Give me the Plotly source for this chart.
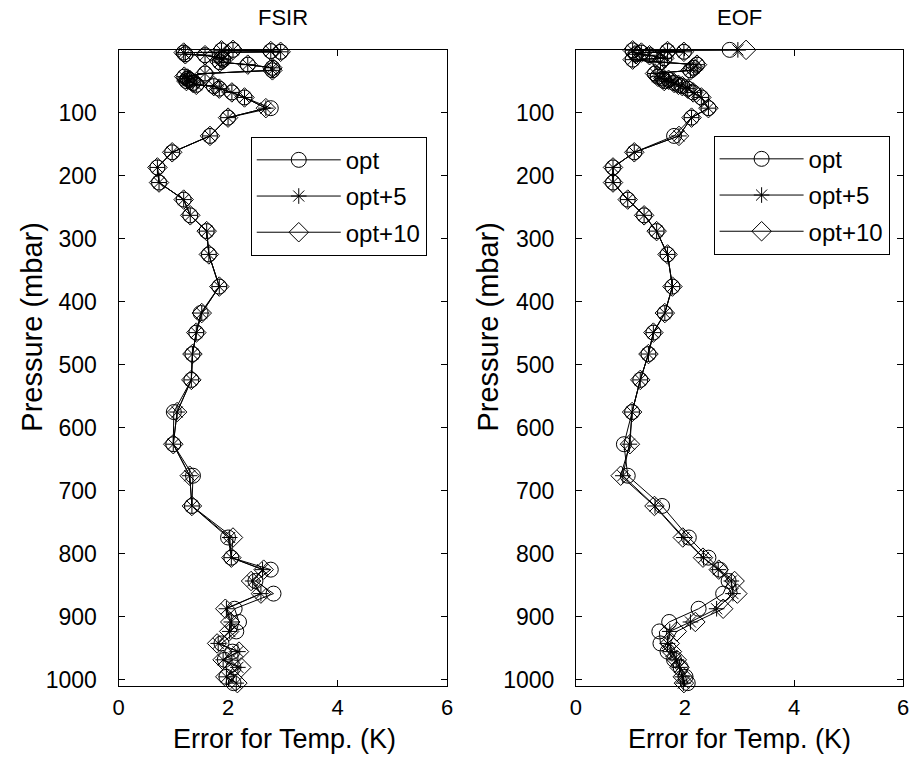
import plotly.graph_objects as go

# ---------------- data ----------------
pressure = [0.5, 1.2, 2.4, 3.6, 4.8, 7.5, 9, 14, 16, 20, 24, 29, 33, 38, 43, 46, 48, 50, 53,
            56, 58, 62, 68, 76, 93, 108, 137,
            163, 187, 211, 238, 263, 288, 325, 376, 418, 449, 483, 524, 575, 626, 676, 724,
            774, 806, 825, 843, 863, 887, 908, 923, 942, 955, 968, 980, 995, 1005]

fsir_opt = [2.09, 1.88, 2.78, 2.96, 1.19, 1.22, 1.58, 1.88, 1.91, 1.85, 2.36, 2.81, 2.81, 1.58, 1.20, 1.26, 1.30, 1.24, 1.36,
            1.42, 1.74, 1.84, 2.07, 2.30, 2.78, 2.00, 1.67,
            0.98, 0.71, 0.74, 1.19, 1.31, 1.61, 1.65, 1.84, 1.50, 1.42, 1.35, 1.33, 1.01, 1.00, 1.36, 1.34,
            2.00, 2.06, 2.78, 2.50, 2.83, 2.12, 2.20, 2.15, 1.88, 2.08, 1.94, 2.10, 1.97, 2.10]
fsir_opt5 = [2.09, 1.88, 2.78, 2.96, 1.19, 1.22, 1.58, 1.88, 1.91, 1.85, 2.36, 2.81, 2.81, 1.58, 1.20, 1.26, 1.30, 1.24, 1.36,
             1.42, 1.74, 1.84, 2.07, 2.30, 2.69, 2.00, 1.67,
             0.98, 0.71, 0.74, 1.19, 1.31, 1.61, 1.65, 1.84, 1.52, 1.42, 1.35, 1.33, 1.07, 1.00, 1.30, 1.34,
             2.03, 2.06, 2.63, 2.45, 2.60, 1.97, 2.06, 2.03, 1.82, 2.18, 1.91, 2.18, 1.97, 2.15]
fsir_opt10 = [2.09, 1.88, 2.78, 2.96, 1.19, 1.22, 1.58, 1.88, 1.91, 1.85, 2.36, 2.81, 2.81, 1.58, 1.20, 1.26, 1.30, 1.24, 1.36,
              1.42, 1.74, 1.84, 2.07, 2.30, 2.69, 2.00, 1.67,
              0.98, 0.71, 0.74, 1.19, 1.31, 1.61, 1.65, 1.84, 1.52, 1.42, 1.35, 1.33, 1.07, 1.00, 1.30, 1.34,
              2.09, 2.06, 2.65, 2.42, 2.60, 1.95, 2.04, 2.02, 1.80, 2.20, 1.90, 2.24, 1.95, 2.17]

eof_opt = [2.82, 1.04, 1.68, 1.98, 1.20, 1.10, 1.35, 1.62, 1.04, 1.55, 2.22, 2.16, 2.10, 1.45, 1.50, 1.60, 1.70, 1.62, 1.80,
           1.88, 1.95, 2.05, 2.15, 2.30, 2.43, 2.12, 1.80,
           1.07, 0.68, 0.68, 0.95, 1.25, 1.48, 1.68, 1.77, 1.63, 1.42, 1.33, 1.18, 1.03, 0.88, 0.95, 1.58,
           2.07, 2.43, 2.64, 2.80, 2.70, 2.25, 1.71, 1.53, 1.55, 1.68, 1.80, 1.92, 2.01, 2.05]
eof_opt5 = [2.97, 1.04, 1.68, 1.98, 1.20, 1.10, 1.35, 1.62, 1.04, 1.55, 2.22, 2.16, 2.10, 1.45, 1.50, 1.60, 1.70, 1.62, 1.80,
            1.88, 1.95, 2.05, 2.15, 2.30, 2.43, 2.12, 1.89,
            1.07, 0.68, 0.68, 0.95, 1.25, 1.48, 1.68, 1.77, 1.63, 1.42, 1.33, 1.18, 1.03, 0.98, 0.86, 1.45,
            1.98, 2.34, 2.61, 2.85, 2.88, 2.58, 2.10, 1.72, 1.68, 1.74, 1.84, 1.90, 1.95, 1.97]
eof_opt10 = [3.12, 1.04, 1.68, 1.98, 1.20, 1.10, 1.35, 1.62, 1.04, 1.55, 2.22, 2.16, 2.10, 1.45, 1.50, 1.60, 1.70, 1.62, 1.80,
             1.88, 1.95, 2.05, 2.15, 2.30, 2.43, 2.12, 1.89,
             1.07, 0.68, 0.68, 0.95, 1.25, 1.48, 1.68, 1.77, 1.63, 1.42, 1.33, 1.18, 1.03, 0.99, 0.82, 1.44,
             1.96, 2.33, 2.62, 2.91, 2.96, 2.70, 2.19, 1.85, 1.72, 1.76, 1.85, 1.90, 1.96, 1.98]

series_names = ["opt", "opt+5", "opt+10"]
x_ticks = [0, 2, 4, 6]
y_ticks = [100, 200, 300, 400, 500, 600, 700, 800, 900, 1000]

# ---------------- figure ----------------
W, H = 916, 763
FONT = "Liberation Sans, Arial, sans-serif"
symbols = ["circle-open", "asterisk-open", "diamond-open"]
sizes = [15, 13, 15]

fig = go.Figure()
for col, (vals, leg, tag) in enumerate([((fsir_opt, fsir_opt5, fsir_opt10), "legend", "f"),
                                        ((eof_opt, eof_opt5, eof_opt10), "legend2", "e")]):
    xa = "x" if col == 0 else "x2"
    ya = "y" if col == 0 else "y2"
    for i, v in enumerate(vals):
        fig.add_trace(go.Scatter(
            x=v, y=pressure, xaxis=xa, yaxis=ya, mode="lines+markers",
            name=series_names[i], legend=leg, legendgroup=f"{tag}{i}", cliponaxis=False,
            line=dict(color="black", width=1),
            marker=dict(symbol=symbols[i], size=sizes[i], color="black",
                        line=dict(color="black", width=1)),
        ))

def px2x(p):
    return p / W

def px2y(p):
    return 1 - p / H

def axis_style(size):
    return dict(showline=True, linecolor="black", linewidth=1, mirror="ticks",
                ticks="inside", ticklen=6, tickcolor="black", showgrid=False,
                zeroline=False, tickfont=dict(family=FONT, size=size, color="black"))

ydom = [px2y(692), px2y(50)]
legend_common = dict(xanchor="left", yanchor="top", bgcolor="white", bordercolor="black",
                     borderwidth=1, font=dict(family=FONT, size=24, color="black"),
                     itemwidth=84, tracegroupgap=2)
fig.update_layout(
    width=W, height=H, margin=dict(l=0, r=0, t=0, b=0),
    paper_bgcolor="white", plot_bgcolor="white",
    font=dict(family=FONT, color="black"),
    xaxis=dict(domain=[px2x(114), px2x(447)], range=[0, 6], tickvals=x_ticks,
               anchor="y", ticklabelstandoff=2, **axis_style(22)),
    yaxis=dict(domain=ydom, range=[1009, 0], tickvals=y_ticks, anchor="x",
               ticklabelstandoff=16, **axis_style(23)),
    xaxis2=dict(domain=[px2x(577.5), px2x(909)], range=[0, 6], tickvals=x_ticks,
                anchor="y2", ticklabelstandoff=2, **axis_style(22)),
    yaxis2=dict(domain=ydom, range=[1009, 0], tickvals=y_ticks, anchor="x2",
                ticklabelstandoff=16, **axis_style(23)),
    legend=dict(x=px2x(248), y=px2y(138), **legend_common),
    legend2=dict(x=px2x(717), y=px2y(137), **legend_common),
    showlegend=True,
)

annots = [
    dict(text="FSIR", x=px2x(281), y=px2y(18), size=22, angle=0),
    dict(text="EOF", x=px2x(743), y=px2y(18), size=22, angle=0),
    dict(text="Error for Temp. (K)", x=px2x(282), y=px2y(746), size=27, angle=0),
    dict(text="Error for Temp. (K)", x=px2x(743), y=px2y(746), size=27, angle=0),
    dict(text="Pressure (mbar)", x=px2x(26), y=px2y(330), size=29, angle=-90),
    dict(text="Pressure (mbar)", x=px2x(488), y=px2y(330), size=29, angle=-90),
]
for a in annots:
    fig.add_annotation(text=a["text"], x=a["x"], y=a["y"], xref="paper", yref="paper",
                       xanchor="center", yanchor="middle", showarrow=False, textangle=a["angle"],
                       font=dict(family=FONT, size=a["size"], color="black"))

fig.write_html("out.html")
